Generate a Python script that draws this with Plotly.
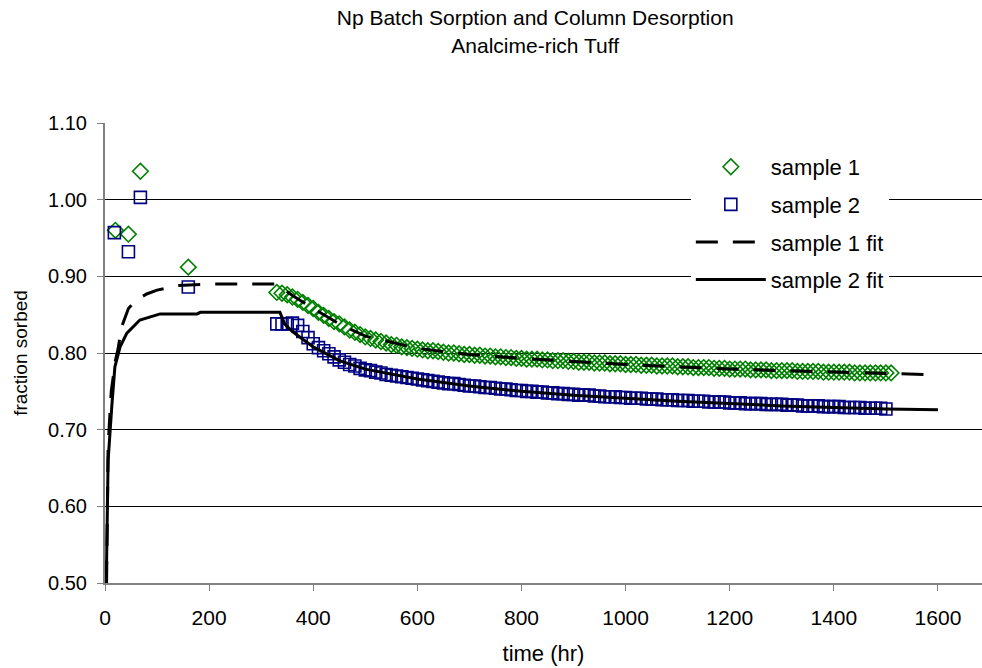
import plotly.graph_objects as go

# ---------------- data ----------------
s1_x = [20, 45, 68, 160,
        330, 340, 350, 360, 370, 380, 390, 400, 410, 420, 430, 440, 450, 460, 470, 480, 490,
        500, 510, 520, 530, 540, 550, 560, 570, 580, 590, 600, 610, 620, 630, 640, 650, 660,
        670, 680, 690, 700, 710, 720, 730, 740, 750, 760, 770, 780, 790, 800, 810, 820, 830,
        840, 850, 860, 870, 880, 890, 900, 910, 920, 930, 940, 950, 960, 970, 980, 990, 1000,
        1010, 1020, 1030, 1040, 1050, 1060, 1070, 1080, 1090, 1100,
        1110, 1120, 1130, 1140, 1150, 1160, 1170, 1180, 1190, 1200,
        1210, 1220, 1230, 1240, 1250, 1260, 1270, 1280, 1290, 1300,
        1310, 1320, 1330, 1340, 1350, 1360, 1370, 1380, 1390, 1400,
        1410, 1420, 1430, 1440, 1450, 1460, 1470, 1480, 1490, 1500, 1510]
s1_y = [0.960, 0.955, 1.037, 0.912,
        0.879, 0.878, 0.876, 0.873, 0.870, 0.866, 0.862, 0.858, 0.853, 0.849, 0.845, 0.841,
        0.838, 0.834, 0.830, 0.827, 0.824, 0.821, 0.819, 0.817, 0.815, 0.813, 0.811, 0.810,
        0.808, 0.807, 0.806, 0.805, 0.804, 0.803, 0.803, 0.802, 0.801, 0.800, 0.800, 0.799,
        0.798, 0.798, 0.797, 0.797, 0.796, 0.796, 0.795, 0.795, 0.794, 0.794, 0.793, 0.793,
        0.792, 0.792, 0.792, 0.791, 0.791, 0.790, 0.790, 0.790, 0.789, 0.789, 0.788, 0.788,
        0.788, 0.787, 0.787, 0.787, 0.786, 0.786, 0.786, 0.785,
        0.785, 0.785, 0.784, 0.784, 0.784, 0.783, 0.783, 0.783, 0.783, 0.782,
        0.782, 0.782, 0.781, 0.781, 0.781, 0.781, 0.780, 0.780, 0.780, 0.779,
        0.779, 0.779, 0.779, 0.778, 0.778, 0.778, 0.778, 0.777, 0.777, 0.777,
        0.777, 0.777, 0.776, 0.776, 0.776, 0.776, 0.776, 0.775, 0.775, 0.775,
        0.775, 0.775, 0.775, 0.774, 0.774, 0.774, 0.774, 0.774, 0.774, 0.774, 0.774]

s2_x = [18, 45, 68, 160,
        330, 340, 350, 360, 370, 380, 390, 400, 410, 420, 430, 440, 450, 460, 470, 480, 490,
        500, 510, 520, 530, 540, 550, 560, 570, 580, 590, 600, 610, 620, 630, 640, 650, 660,
        670, 680, 690, 700, 710, 720, 730, 740, 750, 760, 770, 780, 790, 800, 810, 820, 830,
        840, 850, 860, 870, 880, 890, 900, 910, 920, 930, 940, 950, 960, 970, 980, 990, 1000,
        1010, 1020, 1030, 1040, 1050, 1060, 1070, 1080, 1090, 1100,
        1110, 1120, 1130, 1140, 1150, 1160, 1170, 1180, 1190, 1200,
        1210, 1220, 1230, 1240, 1250, 1260, 1270, 1280, 1290, 1300,
        1310, 1320, 1330, 1340, 1350, 1360, 1370, 1380, 1390, 1400,
        1410, 1420, 1430, 1440, 1450, 1460, 1470, 1480, 1490, 1500]
s2_y = [0.957, 0.932, 1.003, 0.886,
        0.838, 0.838, 0.838, 0.839, 0.836, 0.828, 0.820, 0.812, 0.807, 0.803, 0.799, 0.795,
        0.791, 0.788, 0.785, 0.783, 0.780, 0.778, 0.777, 0.775, 0.774, 0.772, 0.771, 0.770,
        0.769, 0.768, 0.767, 0.766, 0.765, 0.764, 0.763, 0.762, 0.761, 0.760, 0.760, 0.759,
        0.758, 0.757, 0.757, 0.756, 0.755, 0.755, 0.754, 0.753, 0.753, 0.752, 0.751, 0.751,
        0.750, 0.750, 0.749, 0.749, 0.748, 0.748, 0.747, 0.747, 0.746, 0.746, 0.745, 0.745,
        0.745, 0.744, 0.744, 0.743, 0.743, 0.743, 0.742, 0.742,
        0.741, 0.741, 0.741, 0.740, 0.740, 0.740, 0.739, 0.739, 0.739, 0.738,
        0.738, 0.738, 0.737, 0.737, 0.737, 0.736, 0.736, 0.736, 0.736, 0.735,
        0.735, 0.735, 0.734, 0.734, 0.734, 0.734, 0.733, 0.733, 0.733, 0.733,
        0.732, 0.732, 0.732, 0.731, 0.731, 0.731, 0.731, 0.730, 0.730, 0.730,
        0.730, 0.729, 0.729, 0.729, 0.729, 0.728, 0.728, 0.728, 0.728, 0.727]

fit1_x = [3, 6, 12, 20, 25, 32, 45, 60, 80, 100, 140, 200, 330, 340, 360, 400, 450, 500,
          600, 700, 800, 900, 1000, 1100, 1200, 1300, 1400, 1500, 1575]
fit1_y = [0.50, 0.68, 0.75, 0.79, 0.805, 0.834, 0.858, 0.869, 0.877, 0.882, 0.888, 0.890,
          0.890, 0.885, 0.875, 0.858, 0.838, 0.822, 0.806, 0.798, 0.793, 0.789, 0.785,
          0.782, 0.779, 0.777, 0.775, 0.773, 0.772]

fit2_x = [2, 6, 13, 19, 29, 42, 67, 106, 177, 183, 336, 345, 360, 400, 450, 500, 600, 700,
          800, 900, 1000, 1100, 1200, 1300, 1400, 1500, 1600]
fit2_y = [0.48, 0.66, 0.73, 0.782, 0.808, 0.826, 0.843, 0.851, 0.851, 0.853, 0.853, 0.838,
          0.828, 0.808, 0.790, 0.779, 0.766, 0.757, 0.750, 0.745, 0.741, 0.737, 0.734,
          0.731, 0.729, 0.727, 0.726]

y_ticks = [0.50, 0.60, 0.70, 0.80, 0.90, 1.00, 1.10]
x_ticks = [0, 200, 400, 600, 800, 1000, 1200, 1400, 1600]

FONT = "Liberation Sans, Arial, sans-serif"

fig = go.Figure()
fig.add_trace(go.Scatter(
    x=s1_x, y=s1_y, mode="markers", name="sample 1", legendgroup="a",
    marker=dict(symbol="diamond-open", size=12, color="#008000", line=dict(width=1.6, color="#008000"))))
fig.add_trace(go.Scatter(
    x=s2_x, y=s2_y, mode="markers", name="sample 2", legendgroup="b",
    marker=dict(symbol="square-open", size=12, color="#000080", line=dict(width=1.6, color="#000080"))))
fig.add_trace(go.Scatter(
    x=fit1_x, y=fit1_y, mode="lines", name="sample 1 fit", legendgroup="c",
    line=dict(color="black", width=3, dash="22px,15px")))
fig.add_trace(go.Scatter(
    x=fit2_x, y=fit2_y, mode="lines", name="sample 2 fit", legendgroup="d",
    line=dict(color="black", width=3)))

fig.update_layout(
    width=982, height=668,
    margin=dict(l=105, r=0, t=123, b=85),
    paper_bgcolor="white", plot_bgcolor="white",
    font=dict(family=FONT, size=18, color="black"),
    title=dict(text="Np Batch Sorption and Column Desorption<br>Analcime-rich Tuff",
               x=0.545, xanchor="center", y=0.962, yanchor="top",
               font=dict(family=FONT, size=21, color="black")),
    showlegend=True,
    legend=dict(x=0.668, y=0.95, xanchor="left", yanchor="top",
                bgcolor="white", borderwidth=0, itemwidth=70,
                tracegroupgap=6, traceorder="grouped",
                font=dict(family=FONT, size=22, color="black")),
    xaxis=dict(range=[0, 1684.6], tickvals=x_ticks, ticktext=[str(v) for v in x_ticks],
               showgrid=False, zeroline=False, showline=True, linecolor="#808080", linewidth=2,
               ticks="outside", ticklen=6, tickcolor="#808080", ticklabelstandoff=9,
               tickfont=dict(family=FONT, size=21),
               title=dict(text="time (hr)", font=dict(family=FONT, size=22), standoff=17)),
    yaxis=dict(range=[0.5, 1.1], tickvals=y_ticks, ticktext=["%.2f" % v for v in y_ticks],
               showgrid=True, gridcolor="black", gridwidth=1, zeroline=False,
               showline=True, linecolor="#808080", linewidth=2,
               ticks="outside", ticklen=6, tickcolor="#808080", ticklabelstandoff=6,
               tickfont=dict(family=FONT, size=20),
               title=dict(text="fraction sorbed", font=dict(family=FONT, size=19), standoff=15)),
)

fig.write_html("out.html")
